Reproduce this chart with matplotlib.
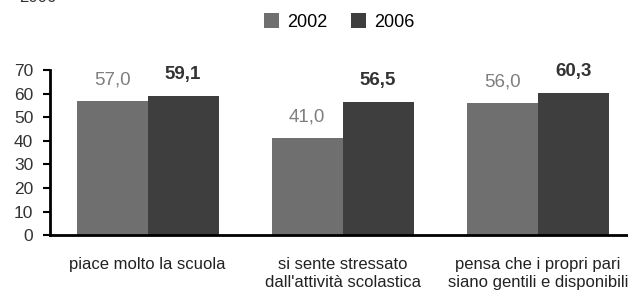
import numpy as np
import matplotlib.pyplot as plt

plt.rcParams['font.family'] = ['Liberation Sans', 'DejaVu Sans']

categories = ["piace molto la scuola",
              "si sente stressato\ndall'attività scolastica",
              "pensa che i propri pari\nsiano gentili e disponibili"]
anni = ["2002", "2006"]
v2002 = [57.0, 41.0, 56.0]
v2006 = [59.1, 56.5, 60.3]
yticks = [0, 10, 20, 30, 40, 50, 60, 70]

fig = plt.figure(figsize=(6.28, 2.91), dpi=100)
ax = fig.add_axes([0.0796, 0.192, 0.932, 0.567])

x = np.arange(len(categories))
w = 0.364
b1 = ax.bar(x - w/2, v2002, w, color="#6f6f6f", label=anni[0])
b2 = ax.bar(x + w/2, v2006, w, color="#3e3e3e", label=anni[1])

for r, v in zip(b1, v2002):
    ax.annotate(f"{v:.1f}".replace(".", ","), (r.get_x() + r.get_width()/2, v),
                xytext=(0, 9), textcoords="offset points", ha="center", va="bottom",
                fontsize=13.5, color="#7f7f7f")
for r, v in zip(b2, v2006):
    ax.annotate(f"{v:.1f}".replace(".", ","), (r.get_x() + r.get_width()/2, v),
                xytext=(0, 9), textcoords="offset points", ha="center", va="bottom",
                fontsize=13.5, color="#333333", fontweight="bold")

ax.set_xlim(-0.5, 2.5)
ax.set_ylim(0, 70)
ax.set_yticks(yticks)
ax.set_yticklabels([str(t) for t in yticks], fontsize=12.5, color="#333333")
ax.set_xticks(x)
ax.set_xticklabels(categories, fontsize=12, color="#222222", linespacing=1.25)
ax.tick_params(axis="x", length=0, pad=16)
ax.tick_params(axis="y", length=5, width=1.5, direction="out", pad=7)
for s in ["top", "right"]:
    ax.spines[s].set_visible(False)
ax.spines["left"].set_linewidth(2)
ax.spines["bottom"].set_linewidth(2)

fig.legend(loc="center", bbox_to_anchor=(0.54, 0.924), ncol=2, frameon=False,
           fontsize=13, handlelength=0.85, handleheight=0.85, columnspacing=1.3,
           handletextpad=0.45)
fig.text(0.03, 1.01, "2006", fontsize=12, color="#333333", va="center")

fig.savefig("out.png", dpi=100)
